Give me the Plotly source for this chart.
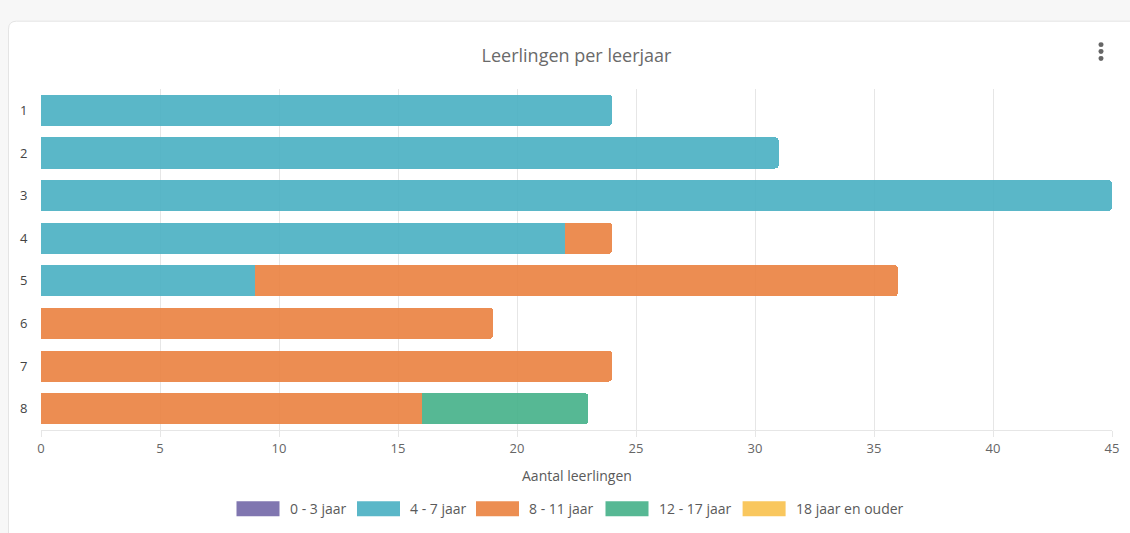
import plotly.graph_objects as go

categories = ["1", "2", "3", "4", "5", "6", "7", "8"]
series_names = ["0 - 3 jaar", "4 - 7 jaar", "8 - 11 jaar", "12 - 17 jaar", "18 jaar en ouder"]
v_0_3 = [0, 0, 0, 0, 0, 0, 0, 0]
v_4_7 = [24, 31, 45, 22, 9, 0, 0, 0]
v_8_11 = [0, 0, 0, 2, 27, 19, 24, 16]
v_12_17 = [0, 0, 0, 0, 0, 0, 0, 7]
v_18_plus = [0, 0, 0, 0, 0, 0, 0, 0]
x_ticks = [0, 5, 10, 15, 20, 25, 30, 35, 40, 45]

series_values = [v_0_3, v_4_7, v_8_11, v_12_17, v_18_plus]
bar_colors = ["#7263A8", "#48AFC2", "#EA813F", "#44B088", "#F8C152"]
legend_colors = ["#8076B0", "#5AB7C8", "#EC8E52", "#57B894", "#F9C75E"]

W, H = 1130, 533
L, R, T, B = 41, 1112, 88.5, 430.5
pw, ph = R - L, B - T


def px(x):
    return (x - L) / pw


def py(y):
    return (B - y) / ph


fig = go.Figure()
for name, vals, col in zip(series_names, series_values, bar_colors):
    fig.add_trace(go.Bar(
        y=categories, x=vals, name=name, orientation="h",
        marker=dict(color=col, opacity=0.9, line=dict(width=0)),
        showlegend=False, hoverinfo="x+name",
    ))

shapes = []
# page card
x0, y0, x1, y1, r = 8.5, 20.5, 1150, 560, 8
path = (f"M {px(x0)},{py(y1)} L {px(x0)},{py(y0 + r)} "
        f"Q {px(x0)},{py(y0)} {px(x0 + r)},{py(y0)} "
        f"L {px(x1)},{py(y0)} L {px(x1)},{py(y1)} Z")
shapes.append(dict(type="path", xref="paper", yref="paper", path=path,
                   fillcolor="white", line=dict(color="#e4e4e4", width=1), layer="below"))
# menu dots
for cy in [44, 51, 58]:
    shapes.append(dict(type="circle", xref="paper", yref="paper",
                       x0=px(1098.5), x1=px(1103.5), y0=py(cy - 2.5), y1=py(cy + 2.5),
                       fillcolor="#666666", line=dict(width=0)))

annotations = []
# custom legend
leg_x = [236.5, 357, 476, 605.5, 742.6]
for name, col, lx in zip(series_names, legend_colors, leg_x):
    shapes.append(dict(type="rect", xref="paper", yref="paper",
                       x0=px(lx), x1=px(lx + 43), y0=py(517), y1=py(502),
                       fillcolor=col, line=dict(width=0)))
    annotations.append(dict(x=px(lx + 51), y=py(509.5), xref="paper", yref="paper",
                            text=name, showarrow=False, xanchor="left", yanchor="middle",
                            font=dict(size=14, color="#5a5a5a")))

annotations.append(dict(x=0.5, y=py(476), xref="paper", yref="paper",
                        text="Aantal leerlingen", showarrow=False,
                        xanchor="center", yanchor="middle",
                        font=dict(size=14, color="#5a5a5a")))

fig.update_layout(
    width=W, height=H,
    barmode="stack", bargap=0.27, barcornerradius=4,
    margin=dict(l=L, r=W - R, t=T, b=H - B, pad=0),
    paper_bgcolor="#f7f7f7", plot_bgcolor="rgba(0,0,0,0)",
    font=dict(family="Open Sans, sans-serif", color="#666666"),
    title=dict(text="Leerlingen per leerjaar", x=0.5, xref="paper", xanchor="center",
               y=1 - 56 / H, yref="container", yanchor="middle",
               font=dict(size=18, color="#6a6a6a")),
    xaxis=dict(range=[0, 45], tickvals=x_ticks, showgrid=True, gridcolor="#e6e6e6",
               gridwidth=1, zeroline=False, showline=True, linecolor="#e6e6e6",
               ticks="outside", ticklen=6, tickcolor="#e6e6e6",
               tickfont=dict(size=13, color="#666666"), fixedrange=True),
    yaxis=dict(autorange="reversed", showgrid=False, zeroline=False, showline=False,
               ticks="outside", ticklen=10, tickcolor="rgba(0,0,0,0)",
               tickfont=dict(size=13, color="#444444"), fixedrange=True),
    shapes=shapes, annotations=annotations,
)

fig.write_html("out.html", config={"displayModeBar": False},
               post_script="document.body.style.margin='0';document.body.style.overflow='hidden';")
